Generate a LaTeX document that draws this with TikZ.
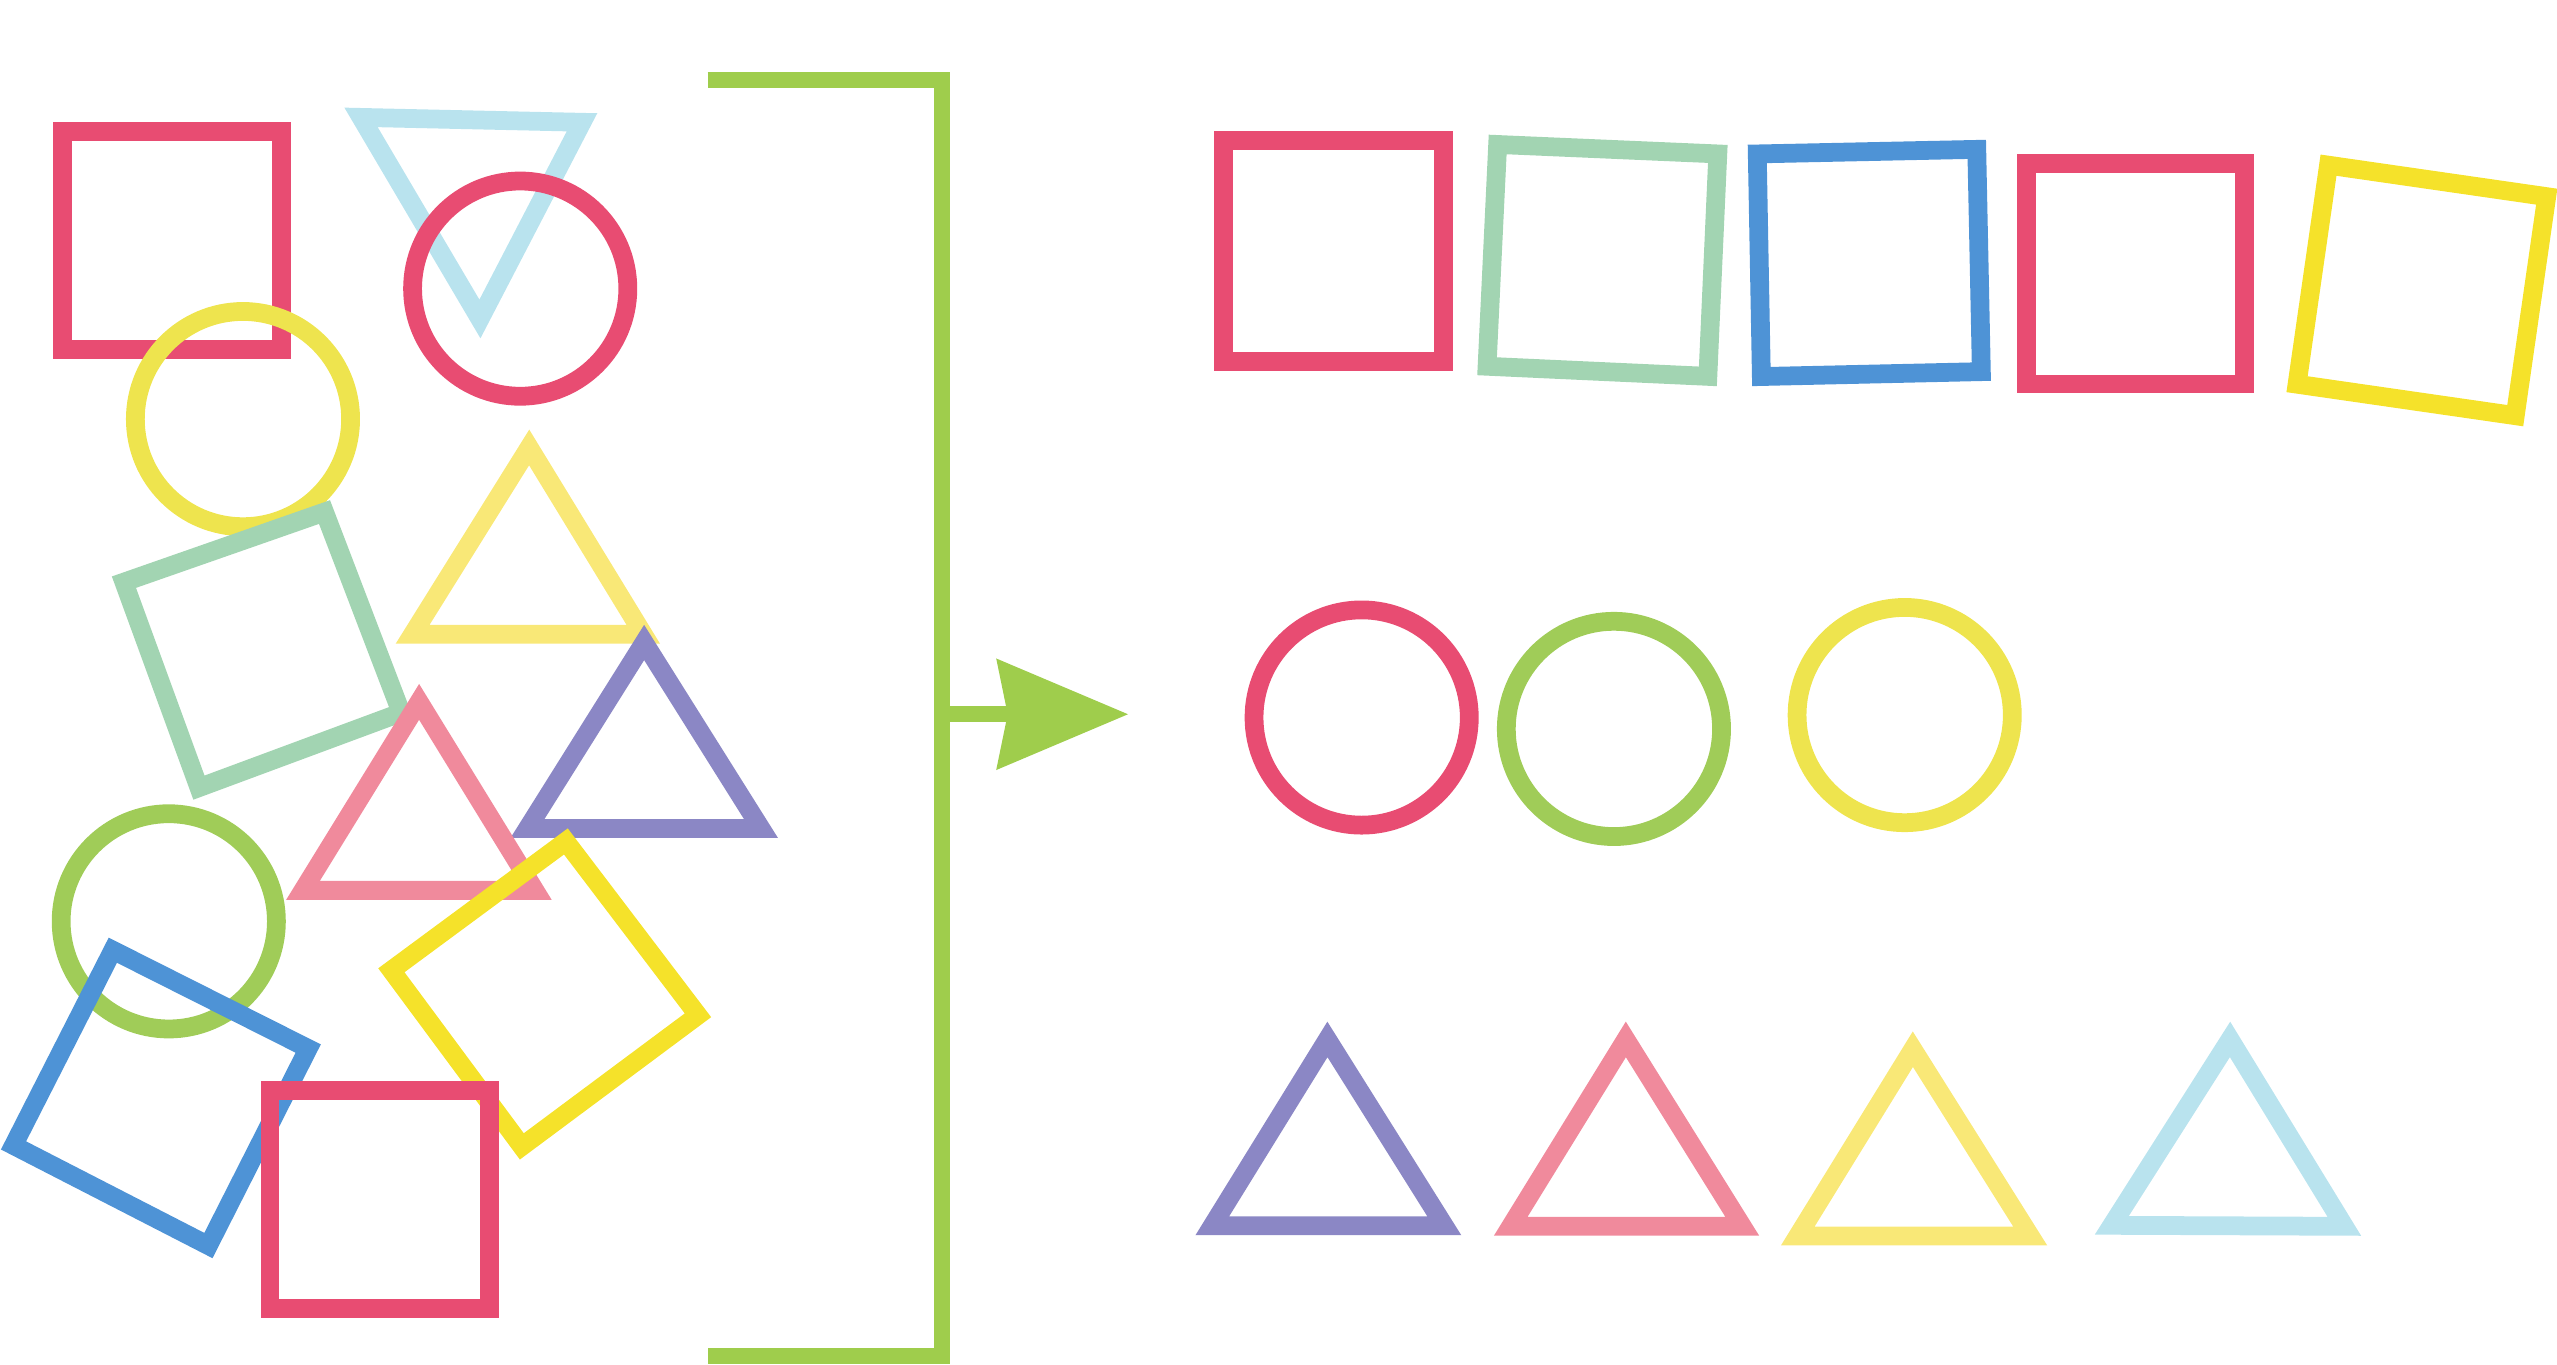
\documentclass[tikz,border=0pt]{standalone}
\usepackage{tikz}
\usetikzlibrary{arrows.meta}

\definecolor{crimson}{HTML}{E84C72}
\definecolor{skyblue}{HTML}{B9E3EE}
\definecolor{lemon}{HTML}{EEE44E}
\definecolor{mint}{HTML}{A2D4B2}
\definecolor{paleyellow}{HTML}{F9E877}
\definecolor{lavender}{HTML}{8B87C5}
\definecolor{salmonpink}{HTML}{F08A9C}
\definecolor{leaf}{HTML}{A0CC58}
\definecolor{sunyellow}{HTML}{F5E22A}
\definecolor{ocean}{HTML}{4E93D6}
\definecolor{chalkgreen}{HTML}{9FCD4C}

\begin{document}
\begin{tikzpicture}[
  x=0.01cm, y=-0.01cm,
  shp/.style={line width=0.115cm, line join=miter, miter limit=10},
  brk/.style={line width=0.1cm, draw=chalkgreen, line join=miter}
]
\useasboundingbox (0,0) rectangle (1568,837);

% mixed heap
\draw[shp, crimson] (38.5,80.5) rectangle (172.5,214.5);
\draw[shp, lemon] (149,257) circle (66);
\draw[shp, skyblue] (221.4,72) -- (356.9,75) -- (294.3,195.6) -- cycle;
\draw[shp, crimson] (319,177) circle (66);
\draw[shp, mint] (76,357) -- (199,314) -- (246,437) -- (122,483) -- cycle;
\draw[shp, paleyellow] (324.5,274.4) -- (394.5,389) -- (253,389) -- cycle;
\draw[shp, lavender] (395,394) -- (466.6,508) -- (323.5,508) -- cycle;
\draw[shp, salmonpink] (257,430.4) -- (328,546) -- (185.8,546) -- cycle;
\draw[shp, leaf] (103.5,565) circle (66);
\draw[shp, ocean] (69.2,582.7) -- (189,643) -- (127.8,763.8) -- (8.3,702.4) -- cycle;
\draw[shp, sunyellow] (347,516) -- (428,622.6) -- (320,703) -- (240,595) -- cycle;
\draw[shp, crimson] (165.5,668.5) rectangle (300.2,802.5);

% bracket and arrow
\coordinate (out) at (577.7,438);
\coordinate (tip) at (692,438);
\draw[brk] (434,49) -| (577.7,831.5) -- (434,831.5);
\draw[brk, -{Stealth[length=0.8cm, width=0.66cm, inset=0.06cm]}] (out) -- (tip);

% squares
\draw[shp, crimson] (750.5,86.3) rectangle (885,221.5);
\draw[shp, mint] (918.4,88.6) -- (1053.4,94.4) -- (1047.3,230.8) -- (911.9,224.6) -- cycle;
\draw[shp, ocean] (1077.6,94.4) -- (1212.2,91.6) -- (1215,227.9) -- (1080.1,230.9) -- cycle;
\draw[shp, crimson] (1242.5,100.3) rectangle (1376.5,235.5);
\draw[shp, sunyellow] (1427.9,101.3) -- (1561.7,120.6) -- (1542.4,254.9) -- (1408.6,235.6) -- cycle;

% circles
\draw[shp, crimson] (835,440) circle (66);
\draw[shp, leaf] (989.7,447) circle (66);
\draw[shp, lemon] (1168,438.5) circle (66);

% triangles
\draw[shp, lavender] (814,637.4) -- (885.7,751.7) -- (743.4,751.7) -- cycle;
\draw[shp, salmonpink] (997,637.4) -- (1068.4,752) -- (926.4,752) -- cycle;
\draw[shp, paleyellow] (1173,643.4) -- (1245,758) -- (1102.4,758) -- cycle;
\draw[shp, skyblue] (1367.5,637.4) -- (1437.6,752) -- (1295,751.4) -- cycle;
\end{tikzpicture}
\end{document}
